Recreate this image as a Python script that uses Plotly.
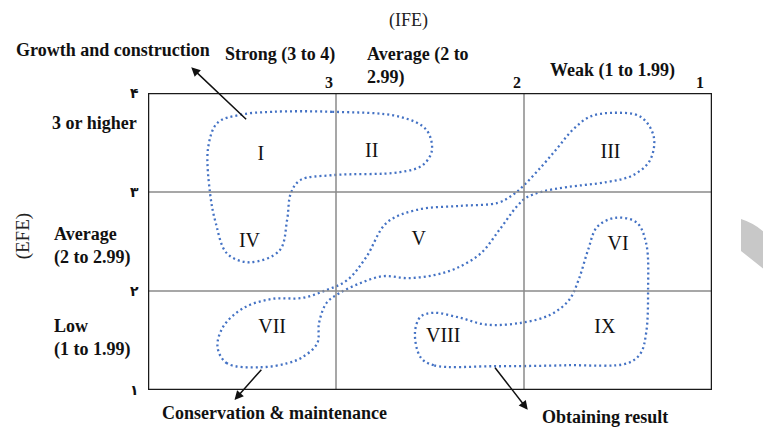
import plotly.graph_objects as go

# ---- data (IFE on x, EFE on y) ----
ife_ticks = [3, 2, 1]
ife_tick_labels = ["3", "2", "1"]
efe_ticks = [4, 3, 2, 1]
efe_tick_labels = ["۴", "۳", "۲", "۱"]
grid_vals = [3, 2]

cell_labels = ["I", "II", "III", "IV", "V", "VI", "VII", "VIII", "IX"]
cell_ife = [3.40, 2.81, 1.54, 3.46, 2.56, 1.50, 3.34, 2.43, 1.57]
cell_efe = [3.37, 3.40, 3.39, 2.49, 2.52, 2.46, 1.63, 1.54, 1.63]

# Growth and construction zone (I, II, IV)
growth_ife = [3.34, 3.02, 2.66, 2.52, 2.49, 2.54, 2.66, 3.02, 3.19, 3.24, 3.26, 3.30,
              3.46, 3.58, 3.64, 3.67, 3.68, 3.63, 3.51, 3.34]
growth_efe = [3.81, 3.81, 3.76, 3.63, 3.42, 3.27, 3.20, 3.17, 3.12, 2.99, 2.72, 2.41,
              2.29, 2.38, 2.69, 2.99, 3.45, 3.70, 3.78, 3.81]

# Conservation & maintenance zone (III, V, VII)
conserve_ife = [3.40, 3.58, 3.63, 3.60, 3.49, 3.34, 3.18, 3.05, 2.94, 2.84, 2.73, 2.57,
                2.34, 2.14, 2.06, 2.01, 1.91, 1.82, 1.74, 1.65, 1.53, 1.38, 1.31, 1.33,
                1.42, 1.56, 1.77, 1.91, 1.99, 2.04, 2.13, 2.23, 2.36, 2.48, 2.62, 2.75,
                2.87, 2.98, 3.05, 3.09, 3.10, 3.18, 3.26, 3.40]
conserve_efe = [1.23, 1.27, 1.43, 1.64, 1.83, 1.92, 1.93, 2.01, 2.11, 2.34, 2.69, 2.82,
                2.86, 2.89, 2.97, 3.05, 3.25, 3.45, 3.63, 3.76, 3.80, 3.76, 3.56, 3.32,
                3.17, 3.10, 3.05, 3.00, 2.94, 2.85, 2.62, 2.38, 2.23, 2.16, 2.13, 2.15,
                2.08, 1.98, 1.88, 1.68, 1.47, 1.33, 1.27, 1.23]

# Obtaining result zone (VI, VIII, IX)
result_ife = [2.16, 2.48, 2.55, 2.58, 2.55, 2.48, 2.34, 2.20, 2.01, 1.86, 1.76, 1.71,
              1.66, 1.61, 1.51, 1.40, 1.35, 1.34, 1.35, 1.38, 1.45, 1.77, 2.16]
result_efe = [1.24, 1.25, 1.33, 1.58, 1.74, 1.78, 1.73, 1.66, 1.68, 1.76, 1.91, 2.11,
              2.41, 2.65, 2.74, 2.69, 2.48, 2.01, 1.58, 1.37, 1.27, 1.25, 1.24]

FONT = "Liberation Serif"
BLUE = "#4472C4"

fig = go.Figure()

for xs, ys in [(growth_ife, growth_efe), (conserve_ife, conserve_efe), (result_ife, result_efe)]:
    fig.add_trace(go.Scatter(
        x=xs, y=ys, mode="lines",
        line=dict(color=BLUE, width=2.3, dash="2px,3px", shape="spline", smoothing=1.0),
        hoverinfo="skip", showlegend=False))

fig.add_trace(go.Scatter(
    x=cell_ife, y=cell_efe, mode="text", text=cell_labels,
    textfont=dict(family=FONT, size=20, color="#111"),
    hoverinfo="skip", showlegend=False))

shapes = []
for v in grid_vals:
    shapes.append(dict(type="line", xref="x", yref="y", x0=v, x1=v, y0=1, y1=4,
                       line=dict(color="#8a8a8a", width=1.5)))
    shapes.append(dict(type="line", xref="x", yref="y", x0=4, x1=1, y0=v, y1=v,
                       line=dict(color="#8a8a8a", width=1.5)))
shapes.append(dict(type="rect", xref="x", yref="y", x0=4, x1=1, y0=1, y1=4,
                   line=dict(color="#1a1a1a", width=2.5)))
# light grey decorative arc at the right edge
shapes.append(dict(type="path", xref="paper", yref="paper",
                   path="M 1.0514 0.5758 Q 1.085 0.5556 1.1046 0.5051 L 1.1046 0.3872 "
                        "Q 1.0762 0.4310 1.0514 0.4680 Z",
                   fillcolor="#c8c8c8", line=dict(width=0)))

ann = []
bold = dict(family=FONT, size=18, color="#111")

def txt(text, x, y, xref="paper", yref="paper", xanchor="center", font=bold, align="center", **kw):
    ann.append(dict(text=text, x=x, y=y, xref=xref, yref=yref, xanchor=xanchor,
                    yanchor="middle", showarrow=False, font=font, align=align, **kw))

txt("(IFE)", 0.461, 1.243, font=dict(family=FONT, size=18, color="#222"))
txt("<b>Growth and construction</b>", -0.062, 1.145)
txt("<b>Strong (3 to 4)</b>", 0.234, 1.128)
txt("<b>Average (2 to<br>2.99)</b>", 0.385, 1.091, xanchor="left", align="left")
txt("<b>Weak (1 to 1.99)</b>", 0.823, 1.077)
txt("<b>3 or higher</b>", -0.094, 3.70, yref="y")
txt("<b>Average<br>(2 to 2.99)</b>", -0.170, 2.45, yref="y", xanchor="left", align="left")
txt("<b>Low<br>(1 to 1.99)</b>", -0.170, 1.53, yref="y", xanchor="left", align="left")
txt("(EFE)", -0.222, 2.55, yref="y", textangle=-90, font=dict(family=FONT, size=19, color="#222"))
txt("<b>Conservation &amp; maintenance</b>", 0.225, -0.077)
txt("<b>Obtaining result</b>", 0.810, -0.091)

tick_shift = {3: -1, 2: -1, 1: -6}
for v, lab in zip(ife_ticks, ife_tick_labels):
    txt("<b>" + lab + "</b>", v, 1.034, xref="x", xanchor="right",
        font=dict(family=FONT, size=16, color="#111"), xshift=tick_shift[v])
for v, lab in zip(efe_ticks, efe_tick_labels):
    txt("<b>" + lab + "</b>", -0.012, v, yref="y", xanchor="right",
        font=dict(family="DejaVu Sans", size=14, color="#111"))

# arrows (head, tail)
arrows = [((3.77, 4.26), (3.47, 3.72)),
          ((3.54, 0.90), (3.39, 1.22)),
          ((1.98, 0.80), (2.16, 1.24))]
for (hx, hy), (tx, ty) in arrows:
    ann.append(dict(x=hx, y=hy, ax=tx, ay=ty, xref="x", yref="y", axref="x", ayref="y",
                    text="", showarrow=True, arrowhead=2, arrowsize=1.2, arrowwidth=1.5,
                    arrowcolor="#111"))

# the page body keeps an 8px margin, so the figure is sized/offset to compensate
fig.update_layout(
    width=763, height=419, autosize=False,
    margin=dict(l=140, r=59, t=85, b=37),
    paper_bgcolor="white", plot_bgcolor="white",
    xaxis=dict(range=[4, 1], visible=False, fixedrange=True),
    yaxis=dict(range=[1, 4], visible=False, fixedrange=True),
    shapes=shapes, annotations=ann, showlegend=False,
)

fig.write_html("out.html")
